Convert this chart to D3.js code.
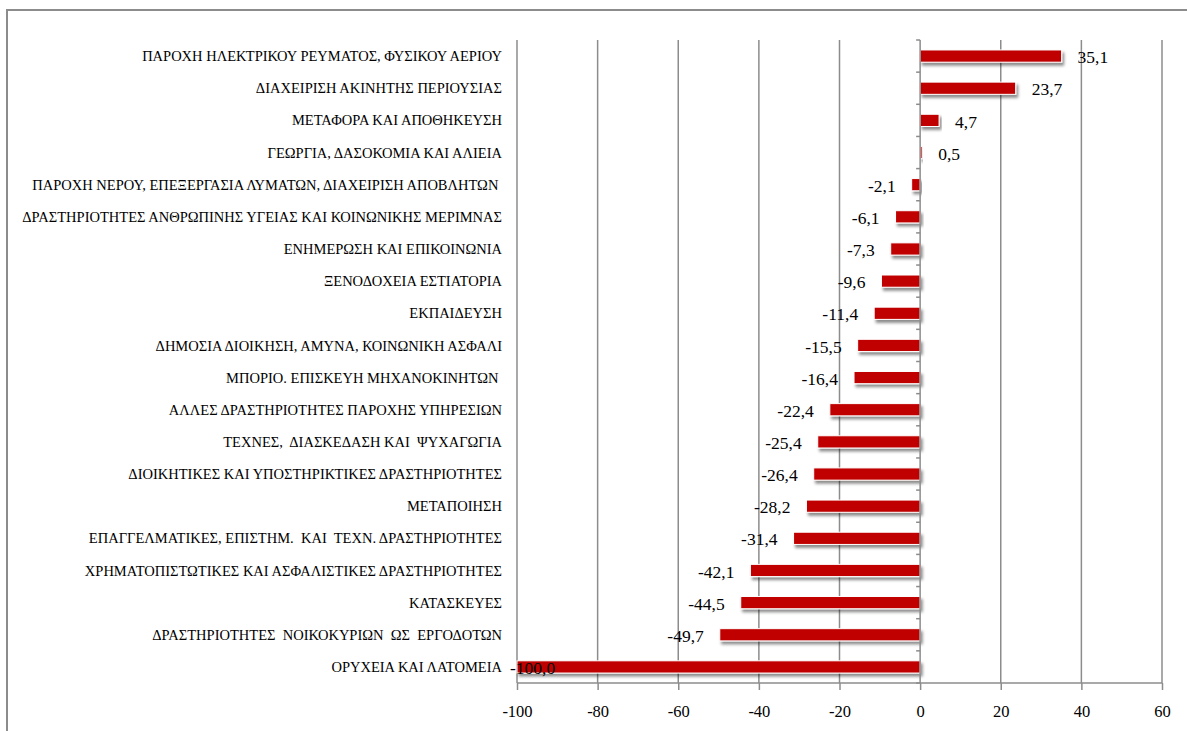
<!DOCTYPE html>
<html>
<head>
<meta charset="utf-8">
<script src="https://cdn.jsdelivr.net/npm/d3@7"></script>
<style>
  html, body { margin: 0; padding: 0; background: #fff; }
  svg { display: block; }
</style>
</head>
<body>
<svg id="chart" width="1187" height="731"></svg>
<script>
const categories = [
  "ΠΑΡΟΧΗ ΗΛΕΚΤΡΙΚΟΥ ΡΕΥΜΑΤΟΣ, ΦΥΣΙΚΟΥ ΑΕΡΙΟΥ",
  "ΔΙΑΧΕΙΡΙΣΗ ΑΚΙΝΗΤΗΣ ΠΕΡΙΟΥΣΙΑΣ",
  "ΜΕΤΑΦΟΡΑ ΚΑΙ ΑΠΟΘΗΚΕΥΣΗ",
  "ΓΕΩΡΓΙΑ, ΔΑΣΟΚΟΜΙΑ ΚΑΙ ΑΛΙΕΙΑ",
  "ΠΑΡΟΧΗ ΝΕΡΟΥ, ΕΠΕΞΕΡΓΑΣΙΑ ΛΥΜΑΤΩΝ, ΔΙΑΧΕΙΡΙΣΗ ΑΠΟΒΛΗΤΩΝ ",
  "ΔΡΑΣΤΗΡΙΟΤΗΤΕΣ ΑΝΘΡΩΠΙΝΗΣ ΥΓΕΙΑΣ ΚΑΙ ΚΟΙΝΩΝΙΚΗΣ ΜΕΡΙΜΝΑΣ",
  "ΕΝΗΜΕΡΩΣΗ ΚΑΙ ΕΠΙΚΟΙΝΩΝΙΑ",
  "ΞΕΝΟΔΟΧΕΙΑ ΕΣΤΙΑΤΟΡΙΑ",
  "ΕΚΠΑΙΔΕΥΣΗ",
  "ΔΗΜΟΣΙΑ ΔΙΟΙΚΗΣΗ, ΑΜΥΝΑ, ΚΟΙΝΩΝΙΚΗ ΑΣΦΑΛΙ",
  "ΜΠΟΡΙΟ. ΕΠΙΣΚΕΥΗ ΜΗΧΑΝΟΚΙΝΗΤΩΝ ",
  "ΑΛΛΕΣ ΔΡΑΣΤΗΡΙΟΤΗΤΕΣ ΠΑΡΟΧΗΣ ΥΠΗΡΕΣΙΩΝ",
  "ΤΕΧΝΕΣ,  ΔΙΑΣΚΕΔΑΣΗ ΚΑΙ  ΨΥΧΑΓΩΓΙΑ",
  "ΔΙΟΙΚΗΤΙΚΕΣ ΚΑΙ ΥΠΟΣΤΗΡΙΚΤΙΚΕΣ ΔΡΑΣΤΗΡΙΟΤΗΤΕΣ",
  "ΜΕΤΑΠΟΙΗΣΗ",
  "ΕΠΑΓΓΕΛΜΑΤΙΚΕΣ, ΕΠΙΣΤΗΜ.  ΚΑΙ  ΤΕΧΝ. ΔΡΑΣΤΗΡΙΟΤΗΤΕΣ",
  "ΧΡΗΜΑΤΟΠΙΣΤΩΤΙΚΕΣ ΚΑΙ ΑΣΦΑΛΙΣΤΙΚΕΣ ΔΡΑΣΤΗΡΙΟΤΗΤΕΣ",
  "ΚΑΤΑΣΚΕΥΕΣ",
  "ΔΡΑΣΤΗΡΙΟΤΗΤΕΣ  ΝΟΙΚΟΚΥΡΙΩΝ  ΩΣ  ΕΡΓΟΔΟΤΩΝ",
  "ΟΡΥΧΕΙΑ ΚΑΙ ΛΑΤΟΜΕΙΑ"
];
const values = [35.1, 23.7, 4.7, 0.5, -2.1, -6.1, -7.3, -9.6, -11.4, -15.5, -16.4, -22.4, -25.4, -26.4, -28.2, -31.4, -42.1, -44.5, -49.7, -100.0];
const xTicks = [-100, -80, -60, -40, -20, 0, 20, 40, 60];

const svg = d3.select("#chart");
const GRID = "#8c8c8c";
const FONT = "Liberation Serif, Times New Roman, serif";

const plot = { left: 517, right: 1162, top: 40, bottom: 683 };

const x = d3.scaleLinear().domain([-100, 60]).range([plot.left, plot.right]);
const y = d3.scaleBand().domain(categories).range([plot.top, plot.bottom]).paddingInner(0.62).paddingOuter(0.31);
const yb = d3.scaleBand().domain(categories).range([plot.top, plot.bottom]);

// drop shadow filter
const defs = svg.append("defs");
const f = defs.append("filter").attr("id", "shadow").attr("x", "-5%").attr("y", "-50%").attr("width", "120%").attr("height", "250%");
f.append("feDropShadow").attr("dx", 2).attr("dy", 3).attr("stdDeviation", 1.6).attr("flood-color", "#000").attr("flood-opacity", 0.45);

// outer border
svg.append("rect").attr("x", 7).attr("y", 10).attr("width", 1300).attr("height", 900)
  .attr("fill", "none").attr("stroke", GRID).attr("stroke-width", 2);

// vertical gridlines
svg.append("g").selectAll("line").data(xTicks.filter(d => d !== 0)).join("line")
  .attr("x1", d => x(d)).attr("x2", d => x(d))
  .attr("y1", plot.top).attr("y2", plot.bottom)
  .attr("stroke", GRID).attr("stroke-width", 1.5);

// x axis
const xAxis = svg.append("g").attr("transform", `translate(0,${plot.bottom})`)
  .call(d3.axisBottom(x).tickValues(xTicks).tickSize(7).tickPadding(15).tickFormat(d3.format("d")));
xAxis.select(".domain").attr("stroke", GRID).attr("stroke-width", 1.5).attr("d", `M${plot.left},0H${plot.right}`);
xAxis.selectAll(".tick line").attr("stroke", GRID).attr("stroke-width", 1.5);
xAxis.selectAll(".tick text").attr("font-family", FONT).attr("font-size", 16.5).attr("fill", "#000")
  .text(d => d < 0 ? "-" + Math.abs(d) : d);

// bars
svg.append("g").selectAll("rect").data(values).join("rect")
  .attr("x", d => x(Math.min(0, d)))
  .attr("y", (d, i) => y(categories[i]))
  .attr("width", d => Math.abs(x(d) - x(0)))
  .attr("height", y.bandwidth())
  .attr("fill", "#c00000")
  .attr("stroke", "#fff").attr("stroke-width", 1)
  .attr("filter", "url(#shadow)");

// category axis at zero
const yAxisG = svg.append("g").attr("transform", `translate(${x(0)},0)`);
yAxisG.append("line").attr("y1", plot.top).attr("y2", plot.bottom).attr("stroke", GRID).attr("stroke-width", 1.5);
const boundaries = categories.map(c => yb(c)).concat([plot.bottom]);
yAxisG.selectAll("line.tk").data(boundaries).join("line").attr("class", "tk")
  .attr("x1", -4).attr("x2", 0).attr("y1", d => d).attr("y2", d => d)
  .attr("stroke", GRID).attr("stroke-width", 1.5);

// category labels (low position)
svg.append("g").selectAll("text").data(categories).join("text")
  .attr("x", 502)
  .attr("y", c => yb(c) + yb.bandwidth() / 2)
  .attr("dy", "0.35em")
  .attr("text-anchor", "end")
  .attr("font-family", FONT).attr("font-size", 14.5).attr("fill", "#000")
  .style("white-space", "pre")
  .attr("xml:space", "preserve")
  .text(c => c);

// value labels
const fmt = v => v.toFixed(1).replace(".", ",");
const vl = svg.append("g").selectAll("text").data(values).join("text")
  .attr("y", (d, i) => yb(categories[i]) + yb.bandwidth() / 2 + 1)
  .attr("dy", "0.35em")
  .attr("font-family", FONT).attr("font-size", 17.5).attr("fill", "#000")
  .text(d => fmt(d));
vl.each(function(d) {
  const t = d3.select(this);
  const w = this.getComputedTextLength();
  if (d >= 0) {
    t.attr("x", x(d) + 16).attr("text-anchor", "start");
  } else if (x(d) - 16 - w < plot.left - 20) {
    t.attr("x", x(d) - 7).attr("text-anchor", "start");
  } else {
    t.attr("x", x(d) - 16).attr("text-anchor", "end");
  }
});
</script>
</body>
</html>
